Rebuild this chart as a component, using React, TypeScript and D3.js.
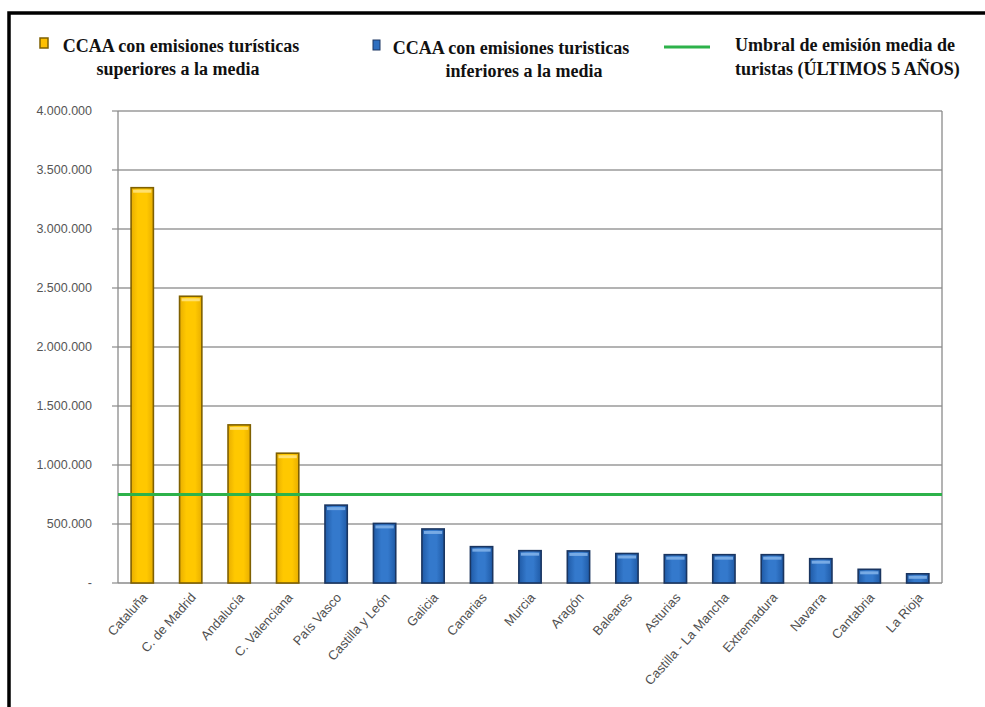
import React from "react";
import * as d3 from "d3";

const categories = [
  "Cataluña", "C. de Madrid", "Andalucía", "C. Valenciana", "País Vasco",
  "Castilla y León", "Galicia", "Canarias", "Murcia", "Aragón", "Baleares",
  "Asturias", "Castilla - La Mancha", "Extremadura", "Navarra", "Cantabria", "La Rioja",
];
const emissions = [
  3350000, 2430000, 1340000, 1100000, 660000, 505000, 458000, 308000, 274000,
  272000, 250000, 240000, 240000, 240000, 206000, 116000, 78000,
];
const threshold = 750000;
const yTicks = [0, 500000, 1000000, 1500000, 2000000, 2500000, 3000000, 3500000, 4000000];

const W = 985, H = 707;
const plot = { left: 118, right: 942, top: 111, bottom: 583 };

const fmt = (v: number) =>
  v === 0 ? "-" : String(v).replace(/\B(?=(\d{3})+(?!\d))/g, ".");

export default function App() {
  const x = d3.scaleBand<string>().domain(categories).range([plot.left, plot.right]).paddingInner(0.54).paddingOuter(0.27);
  const y = d3.scaleLinear().domain([0, 4000000]).range([plot.bottom, plot.top]);
  const legendFont = "'Liberation Serif', 'Times New Roman', serif";
  const axisFont = "'Liberation Sans', Arial, sans-serif";
  return (
    <svg width={W} height={H} style={{ position: "absolute", left: 0, top: 0, background: "#fff" }}>
      <defs>
        <linearGradient id="gyh" x1="0" y1="0" x2="1" y2="0">
          <stop offset="0" stopColor="#E8AE00" />
          <stop offset="0.3" stopColor="#FFC800" />
          <stop offset="0.7" stopColor="#FFC800" />
          <stop offset="1" stopColor="#E8AE00" />
        </linearGradient>
        <linearGradient id="gbh" x1="0" y1="0" x2="1" y2="0">
          <stop offset="0" stopColor="#1F5AA6" />
          <stop offset="0.35" stopColor="#3479CC" />
          <stop offset="0.65" stopColor="#3479CC" />
          <stop offset="1" stopColor="#1F5AA6" />
        </linearGradient>
      </defs>
      {/* frame */}
      <rect x={9} y={13} width={1000} height={720} fill="none" stroke="#000" strokeWidth={3.5} />

      {/* legend */}
      <g fontFamily={legendFont} fontWeight="bold" fontSize={18} fill="#111">
        <rect x={40} y={38} width={8} height={10} fill="#FFC000" stroke="#7F6000" strokeWidth={1.5} />
        <text x={181} y={52} textAnchor="middle">CCAA con emisiones turísticas</text>
        <text x={178} y={75} textAnchor="middle">superiores a la media</text>
        <rect x={373} y={40} width={7} height={10} fill="#2E6FC0" stroke="#1F3864" strokeWidth={1} />
        <text x={511} y={54} textAnchor="middle">CCAA con emisiones turisticas</text>
        <text x={524} y={77} textAnchor="middle">inferiores a la media</text>
        <line x1={664} x2={710} y1={47} y2={47} stroke="#2DB24A" strokeWidth={3} />
        <text x={735} y={51}>Umbral de emisión media de</text>
        <text x={735} y={75}>turistas (ÚLTIMOS 5 AÑOS)</text>
      </g>

      {/* gridlines */}
      {yTicks.filter((t) => t > 0).map((t) => (
        <line key={t} x1={plot.left} x2={plot.right} y1={y(t)} y2={y(t)} stroke="#9a9a9a" strokeWidth={1.3} />
      ))}
      <line x1={plot.right} x2={plot.right} y1={plot.top} y2={plot.bottom} stroke="#8a8a8a" strokeWidth={1.3} />
      <line x1={plot.left} x2={plot.left} y1={plot.top} y2={plot.bottom} stroke="#8a8a8a" strokeWidth={1.3} />
      <line x1={plot.left} x2={plot.right} y1={plot.bottom} y2={plot.bottom} stroke="#8a8a8a" strokeWidth={1.3} />
      {yTicks.map((t) => (
        <g key={"t" + t}>
          <line x1={plot.left - 6} x2={plot.left} y1={y(t)} y2={y(t)} stroke="#8a8a8a" strokeWidth={1.2} />
          <text x={92} y={y(t)} dy="0.35em" textAnchor="end" fontFamily={axisFont} fontSize={12.5} fill="#555">{fmt(t)}</text>
        </g>
      ))}

      {/* bars */}
      {categories.map((c, i) => {
        const v = emissions[i];
        const above = v > threshold;
        const bx = x(c)!;
        const bw = x.bandwidth();
        const top = y(v);
        return (
          <g key={c}>
            <rect x={bx} y={top} width={bw} height={plot.bottom - top}
              fill={above ? "url(#gyh)" : "url(#gbh)"} stroke={above ? "#7F6000" : "#1A3560"} strokeWidth={1.6} />
            <rect x={bx + 2} y={top + 2} width={bw - 4} height={3}
              fill={above ? "#FFE27A" : "#7FB0E8"} opacity={0.9} />
          </g>
        );
      })}

      {/* threshold line */}
      <line x1={plot.left} x2={plot.right} y1={y(threshold)} y2={y(threshold)} stroke="#2DB24A" strokeWidth={3} />

      {/* x labels */}
      {categories.map((c) => {
        const cx = x(c)! + x.bandwidth() / 2;
        return (
          <text key={"l" + c} transform={`translate(${cx + 6},${598}) rotate(-48)`} textAnchor="end"
            fontFamily={axisFont} fontSize={13} fill="#505050">{c}</text>
        );
      })}
    </svg>
  );
}
